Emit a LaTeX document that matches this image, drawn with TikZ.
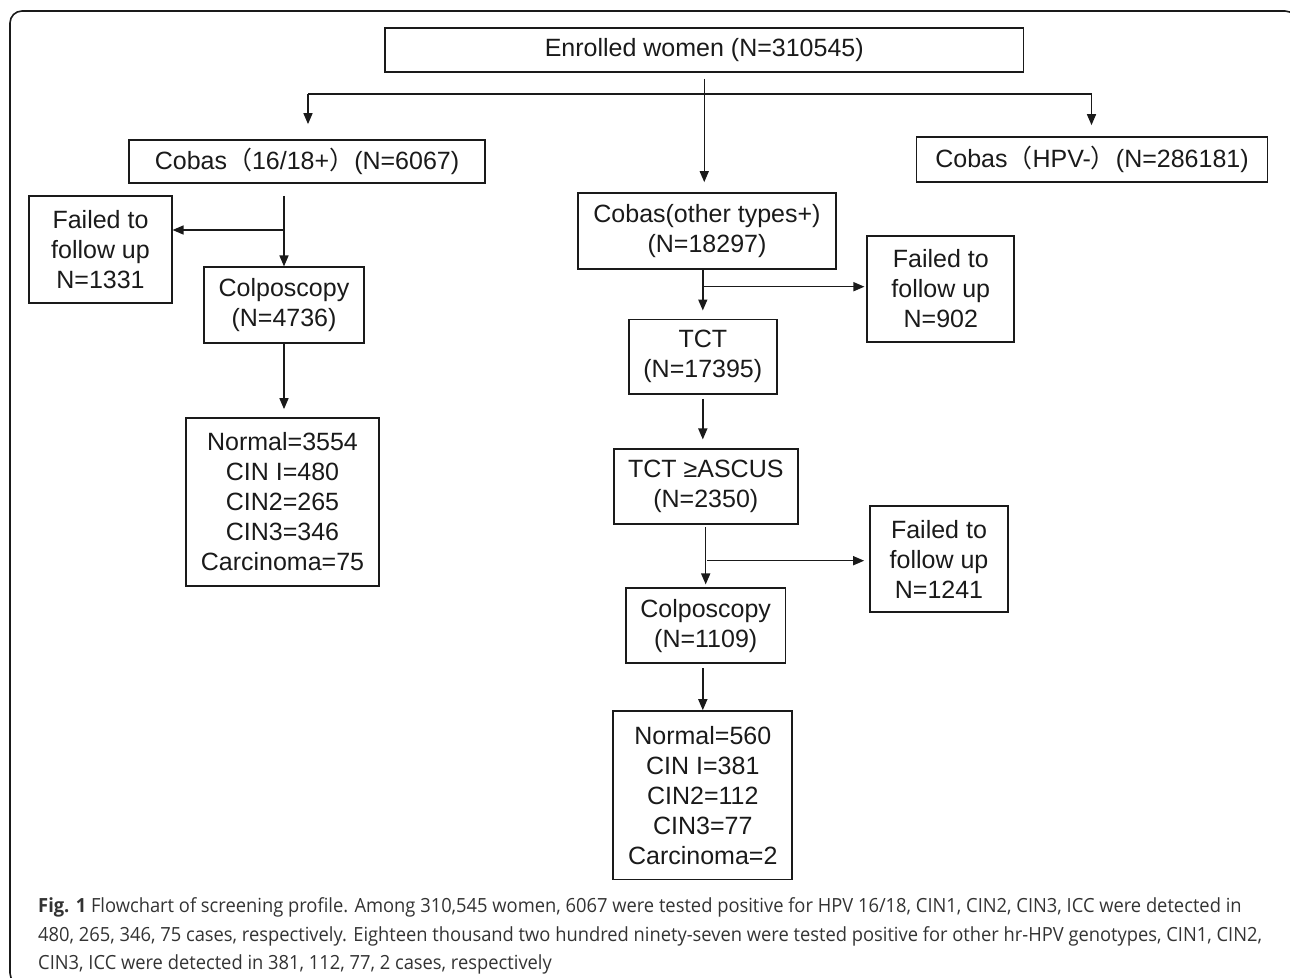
\documentclass[tikz,border=0pt]{standalone}
\usepackage{fontspec}
\setmainfont{Liberation Sans}
\newfontfamily\cjk{Noto Sans CJK SC}
\newfontfamily\capfont[FakeStretch=0.94]{Open Sans}
\usetikzlibrary{arrows.meta}
\definecolor{ink}{HTML}{1A1A1A}
\definecolor{captext}{HTML}{333333}
\begin{document}
\begin{tikzpicture}[x=1pt,y=-1pt,
  box/.style={draw=ink,line width=1.7pt,inner sep=0pt,align=center,text=ink,
    font=\fontsize{25}{30}\selectfont},
  ln/.style={draw=ink,line width=1.5pt},
  arr/.style={ln,-{Triangle[length=11pt,width=9pt]}},
  captxt/.style={anchor=base west,inner sep=0pt,text=captext,
    font=\capfont\fontsize{19.5}{28}\selectfont}]
\useasboundingbox (0,0) rectangle (1290,977);
\begin{scope}
  \clip (0,0) rectangle (1290,977);
  \draw[draw=ink,line width=1.6pt,rounded corners=12pt] (10,11) rectangle (1297,985);
\end{scope}

% boxes
\node[box,minimum width=638.5pt,minimum height=44pt] (enr) at (704.25,50) {Enrolled women (N=310545)};
\node[box,minimum width=356pt,minimum height=43pt] (c1618) at (307,161.5) {Cobas{\cjk（}16/18+{\cjk）}(N=6067)};
\node[box,minimum width=351pt,minimum height=45pt] (hpvn) at (1092,159.5) {Cobas{\cjk（}HPV-{\cjk）}(N=286181)};
\node[box,minimum width=258pt,minimum height=76pt] (cother) at (707,231) {Cobas(other types+)\\(N=18297)};
\node[box,minimum width=142.4pt,minimum height=106.7pt] (fail1) at (100.5,249.3) {Failed to\\follow up\\N=1331};
\node[box,minimum width=160pt,minimum height=75.4pt] (colp1) at (284,305) {Colposcopy\\(N=4736)};
\node[box,minimum width=193pt,minimum height=168pt] (res1) at (282.5,502) {Normal=3554\\CIN I=480\\CIN2=265\\CIN3=346\\Carcinoma=75};
\node[box,minimum width=147pt,minimum height=105.7pt] (fail2) at (940.8,288.8) {Failed to\\follow up\\N=902};
\node[box,minimum width=147.7pt,minimum height=74.7pt] (tct) at (702.8,356.7) {TCT\\(N=17395)};
\node[box,minimum width=183.7pt,minimum height=75pt] (asc) at (705.8,486.8) {TCT ≥ASCUS\\(N=2350)};
\node[box,minimum width=138pt,minimum height=106pt] (fail3) at (939,559) {Failed to\\follow up\\N=1241};
\node[box,minimum width=159.3pt,minimum height=75pt] (colp2) at (705.7,625.8) {Colposcopy\\(N=1109)};
\node[box,minimum width=179pt,minimum height=168.3pt] (res2) at (702.8,795.2) {Normal=560\\CIN I=381\\CIN2=112\\CIN3=77\\Carcinoma=2};

% connectors
\coordinate (hl) at (308,94);
\coordinate (hr) at (1091.5,94);
\draw[arr,shorten >=10pt] ([yshift=-6pt]enr.south) -- (enr.south |- cother.north);
\draw[ln] (hl) -- (hr);
\draw[arr,shorten >=15pt] (hl) -- (hl |- c1618.north);
\draw[arr,shorten >=11pt] (hr) -- (hr |- hpvn.north);

\coordinate (b1) at (284,230);
\draw[arr,shorten <=12pt] (colp1.north |- c1618.south) -- (colp1.north);
\draw[arr] (b1) -- (fail1.east |- b1);
\draw[arr,shorten >=8pt] (colp1.south) -- (colp1.south |- res1.north);

\coordinate (b2) at (702.8,286.7);
\draw[arr,shorten >=8pt] (tct.north |- cother.south) -- (tct.north);
\draw[arr,shorten >=2pt] (b2) -- (fail2.west |- b2);
\draw[arr,shorten <=4pt,shorten >=9pt] (tct.south) -- (tct.south |- asc.north);

\coordinate (b3) at (707,560.7);
\draw[arr,shorten <=2pt,shorten >=3pt] (colp2.north |- asc.south) -- (colp2.north);
\draw[arr,shorten >=5pt] (b3) -- (fail3.west |- b3);
\draw[arr,shorten <=4pt] (res2.north |- colp2.south) -- (res2.north);

% caption
\node[captxt] (cap1) at (38,912) {{\bfseries Fig. 1} Flowchart of screening profile. Among 310,545 women, 6067 were tested positive for HPV 16/18, CIN1, CIN2, CIN3, ICC were detected in};
\node[captxt] (cap2) at (38,941) {480, 265, 346, 75 cases, respectively. Eighteen thousand two hundred ninety-seven were tested positive for other hr-HPV genotypes, CIN1, CIN2,};
\node[captxt] (cap3) at (38,969) {CIN3, ICC were detected in 381, 112, 77, 2 cases, respectively};
\end{tikzpicture}
\end{document}
